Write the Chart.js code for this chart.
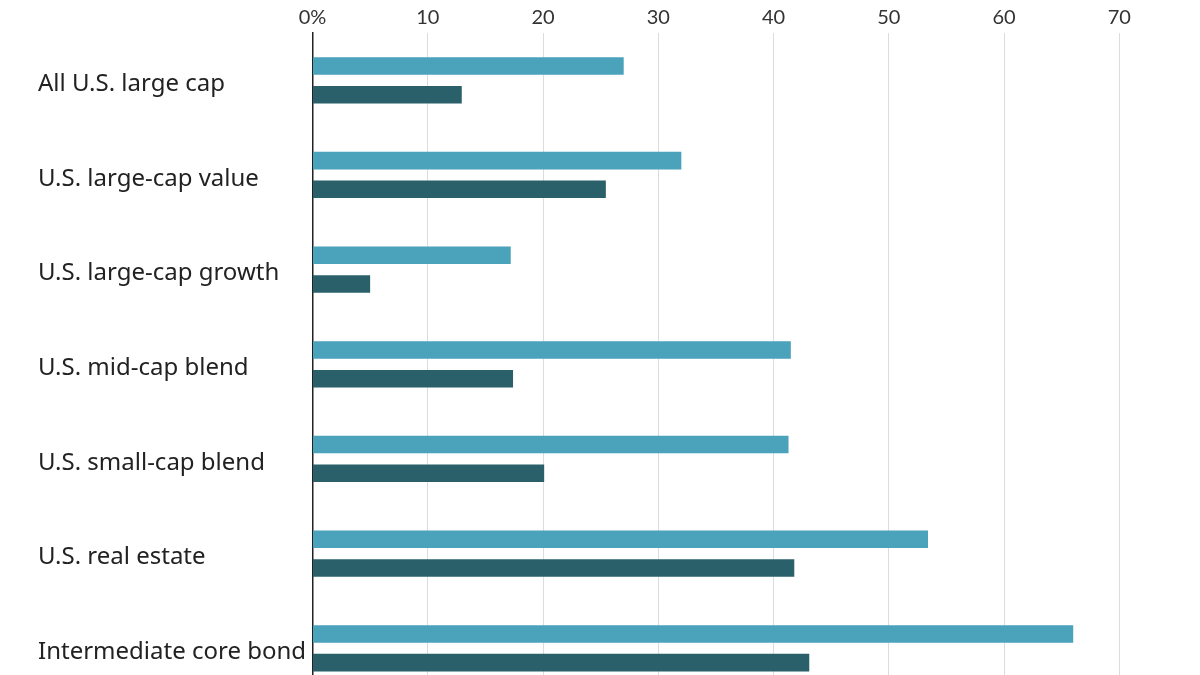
<!DOCTYPE html>
<html>
<head>
<meta charset="utf-8">
<script src="https://cdn.jsdelivr.net/npm/chart.js@4.4.1/dist/chart.umd.min.js"></script>
<style>
  html, body { margin: 0; padding: 0; background: #fff; overflow: hidden; }
  #wrap { position: relative; width: 1200px; height: 675px; overflow: hidden; }
  #box { position: absolute; left: 0; top: 0; width: 1200px; height: 710px; }
</style>
</head>
<body>
<div id="wrap"><div id="box"><canvas id="barChart"></canvas></div></div>
<script>
const categories = [
    'All U.S. large cap',
    'U.S. large-cap value',
    'U.S. large-cap growth',
    'U.S. mid-cap blend',
    'U.S. small-cap blend',
    'U.S. real estate',
    'Intermediate core bond'
];
const lightValues = [27.0, 32.0, 17.2, 41.5, 41.3, 53.4, 66.0];
const darkValues = [12.95, 25.45, 5.0, 17.4, 20.1, 41.8, 43.1];
const tickValues = [0, 10, 20, 30, 40, 50, 60, 70];

document.addEventListener('DOMContentLoaded', function () {
    const ctx = document.getElementById('barChart');

    new Chart(ctx, {
        type: 'bar',
        data: {
            labels: categories,
            datasets: [
                {
                    label: 'Series A',
                    data: lightValues,
                    backgroundColor: '#4aa2bb',
                    borderWidth: 0,
                    barPercentage: 0.61,
                    categoryPercentage: 0.607
                },
                {
                    label: 'Series B',
                    data: darkValues,
                    backgroundColor: '#2a6069',
                    borderWidth: 0,
                    barPercentage: 0.61,
                    categoryPercentage: 0.607
                }
            ]
        },
        options: {
            indexAxis: 'y',
            responsive: true,
            maintainAspectRatio: false,
            animation: false,
            layout: { padding: { left: 38, right: 0, top: 0, bottom: 0 } },
            scales: {
                x: {
                    position: 'top',
                    min: 0,
                    max: 77,
                    afterBuildTicks: function (axis) {
                        axis.ticks = tickValues.map(v => ({ value: v }));
                    },
                    afterFit: function (axis) { axis.height = 33; },
                    ticks: {
                        color: '#333',
                        padding: 3,
                        font: { family: 'Lato', size: 20 },
                        callback: v => (v === 0 ? '0%' : String(v))
                    },
                    grid: { color: '#dcdcdc', lineWidth: 1, drawTicks: false },
                    border: { display: false }
                },
                y: {
                    afterFit: function (axis) { axis.width = 274.5; },
                    ticks: {
                        color: '#222',
                        crossAlign: 'far',
                        padding: 0,
                        labelOffset: 4,
                        font: { family: 'Noto Sans', size: 24 }
                    },
                    grid: { display: false, drawTicks: false },
                    border: { display: true, color: '#222', width: 1.5 }
                }
            },
            plugins: {
                legend: { display: false },
                tooltip: { enabled: false }
            }
        }
    });
});
</script>
</body>
</html>
